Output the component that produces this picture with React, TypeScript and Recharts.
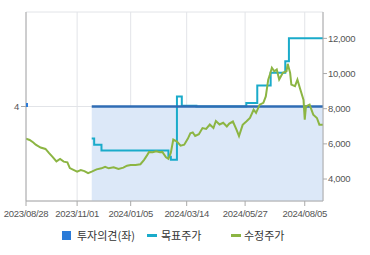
import React from 'react';
import { ComposedChart, Area, Line, XAxis, YAxis, CartesianGrid } from 'recharts';

// x = trading-day index counted from 2023/08/28
const tickDays = [0, 42, 86, 132, 180, 229];
const tickLabels = ['2023/08/28', '2023/11/01', '2024/01/05', '2024/03/14', '2024/05/27', '2024/08/05'];

const priceDays = [
  0, 3, 6, 8, 12, 16, 19, 22, 25, 28, 31, 34, 36, 39, 42, 45, 48, 51, 54, 58,
  62, 65, 68, 72, 76, 80, 83, 86, 90, 94, 97, 99, 101, 104, 107, 110, 112, 115, 117, 119,
  121, 124, 127, 130, 133, 135, 137, 139, 142, 145, 148, 151, 154, 156, 159, 162, 165, 167, 170, 173,
  175, 178, 181, 184, 187, 189, 192, 195, 197, 199, 200, 202, 204, 206, 208, 211, 214, 215, 217, 218,
  221, 223, 225, 228, 229, 230, 233, 236, 239, 241, 244,
];
const priceValues = [
  6300, 6220, 6080, 5950, 5790, 5710, 5470, 5250, 5000, 5140, 4990, 4950, 4620, 4520, 4420, 4510, 4450, 4330, 4420, 4550,
  4610, 4700, 4610, 4670, 4570, 4650, 4760, 4800, 4800, 4840, 5090, 5300, 5530, 5520, 5580, 5520, 5540, 5240, 5150, 5500,
  6250, 6130, 5900, 5950, 6300, 6600, 6650, 6450, 6550, 6900, 6850, 7100, 6900, 7300, 7100, 7200, 6990, 7150, 7270, 6800,
  6450, 7080, 7270, 7470, 7940, 7760, 8230, 8330, 8700, 9650, 9850, 10330, 10130, 10230, 9660, 10040, 10130, 10550, 10040, 9370,
  9280, 9650, 9180, 8500, 7370, 8130, 8230, 7660, 7470, 7090, 7090,
];

const targetDays = [54, 56, 62, 117, 119, 124, 128, 140, 181, 190, 201, 213, 216, 244];
const targetValues = [6300, 5950, 5620, 5270, 5090, 8700, 8170, 8120, 8320, 9320, 10040, 10700, 12000, 12000];

const opinionDays = [0, 1, 54, 244];
const opinionValues: (number | null)[] = [4, null, 4, 4];

const leftTicks = [4];
const rightTicks = [4000, 6000, 8000, 10000, 12000];

const priceData = priceDays.map((d, k) => ({ i: d, v: priceValues[k] }));
const targetData = targetDays.map((d, k) => ({ i: d, v: targetValues[k] }));
const opinionData = opinionDays.map((d, k) => ({ i: d, v: opinionValues[k] }));

const C_OPINION_LINE = '#2f6cb4';
const C_OPINION_FILL = '#dce8f8';
const C_OPINION_ICON = '#2b7bd8';
const C_TARGET = '#1aabca';
const C_PRICE = '#8cb543';
const C_AXIS = '#aaaaaa';
const C_GRID = '#e2e4e8';

const tickFont = { fontFamily: 'Liberation Sans, Arial, sans-serif', fontSize: 9.5, fill: '#555', letterSpacing: -0.3 };

const OpinionDot = (props: any) => {
  const { cx, cy, payload } = props;
  if (payload && payload.i === 0 && cx != null && cy != null) {
    return <rect key="od0" x={cx} y={cy - 3.5} width={2} height={4} fill={C_OPINION_ICON} />;
  }
  return <g key={`od${props.index}`} />;
};

const legendText: React.CSSProperties = {
  position: 'absolute',
  top: 227,
  fontFamily: '"Noto Sans CJK KR", sans-serif',
  fontSize: 11,
  lineHeight: '16px',
  color: '#333',
  whiteSpace: 'nowrap',
};

export default function App() {
  return (
    <div style={{ position: 'absolute', left: 0, top: 0, width: 370, height: 255, background: '#fff' }}>
      <ComposedChart width={370} height={255} margin={{ top: 12, right: 0, bottom: 0, left: 0 }}>
        <CartesianGrid yAxisId="left" stroke={C_GRID} strokeWidth={1} />
        <XAxis
          type="number"
          dataKey="i"
          domain={[0, 244]}
          ticks={tickDays}
          allowDataOverflow
          height={54}
          tickSize={5}
          tickMargin={4}
          interval={0}
          stroke={C_AXIS}
          tickLine={{ stroke: C_AXIS }}
          axisLine={{ stroke: C_AXIS }}
          tick={tickFont}
          tickFormatter={(d: number) => tickLabels[tickDays.indexOf(d)] ?? ''}
        />
        <XAxis
          xAxisId="top"
          orientation="top"
          type="number"
          dataKey="i"
          domain={[0, 244]}
          height={0}
          tick={false}
          tickLine={false}
          axisLine={{ stroke: C_AXIS }}
        />
        <YAxis
          yAxisId="left"
          orientation="left"
          width={26}
          domain={[0, 8]}
          ticks={leftTicks}
          tickSize={5}
          tickMargin={2}
          axisLine={{ stroke: C_AXIS }}
          tickLine={{ stroke: C_AXIS }}
          tick={tickFont}
        />
        <YAxis
          yAxisId="right"
          orientation="right"
          width={47}
          domain={[2750, 13500]}
          ticks={rightTicks}
          allowDataOverflow
          tickSize={4}
          tickMargin={1}
          axisLine={{ stroke: C_AXIS }}
          tickLine={{ stroke: C_AXIS }}
          tick={tickFont}
          tickFormatter={(v: number) => v.toLocaleString('en-US')}
        />
        <Area
          yAxisId="left"
          data={opinionData}
          dataKey="v"
          type="linear"
          stroke="none"
          fill={C_OPINION_FILL}
          fillOpacity={1}
          isAnimationActive={false}
          dot={false}
          activeDot={false}
        />
        <Line
          yAxisId="right"
          data={targetData}
          dataKey="v"
          type="stepAfter"
          stroke={C_TARGET}
          strokeWidth={2}
          dot={false}
          activeDot={false}
          isAnimationActive={false}
        />
        <Line
          yAxisId="left"
          data={opinionData}
          dataKey="v"
          type="linear"
          stroke={C_OPINION_LINE}
          strokeWidth={2.5}
          dot={OpinionDot}
          activeDot={false}
          isAnimationActive={false}
        />
        <Line
          yAxisId="right"
          data={priceData}
          dataKey="v"
          type="linear"
          stroke={C_PRICE}
          strokeWidth={2}
          dot={false}
          activeDot={false}
          isAnimationActive={false}
        />
      </ComposedChart>
      <div style={{ position: 'absolute', left: 62, top: 231, width: 9, height: 9, background: C_OPINION_ICON }} />
      <span style={{ ...legendText, left: 77 }}>투자의견(좌)</span>
      <div style={{ position: 'absolute', left: 147, top: 234, width: 10, height: 3, background: C_TARGET }} />
      <span style={{ ...legendText, left: 161 }}>목표주가</span>
      <div style={{ position: 'absolute', left: 231, top: 234, width: 10, height: 3, background: C_PRICE }} />
      <span style={{ ...legendText, left: 244 }}>수정주가</span>
    </div>
  );
}
